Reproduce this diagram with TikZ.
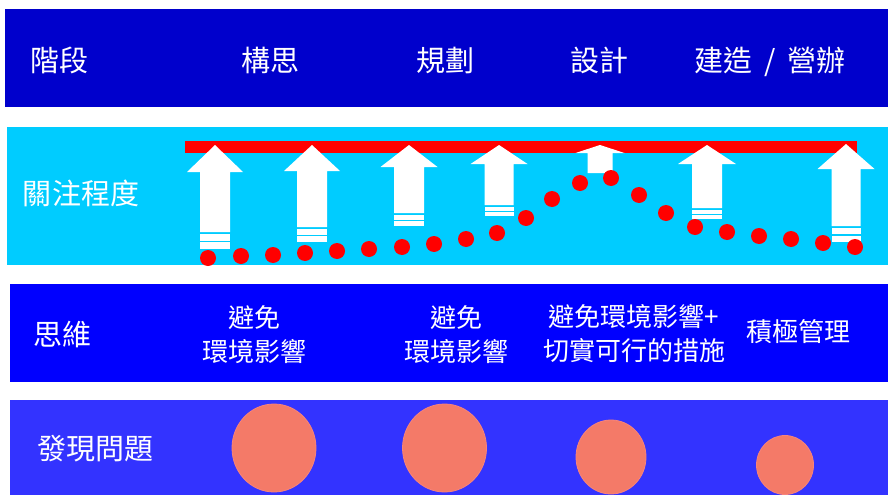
\documentclass[tikz,border=0pt]{standalone}
\usepackage{fontspec}
\newfontfamily\cjk{Noto Sans CJK TC}
\definecolor{bandA}{HTML}{0000CC}
\definecolor{bandB}{HTML}{00CCFF}
\definecolor{bandC}{HTML}{0000FF}
\definecolor{bandD}{HTML}{3333FF}
\definecolor{barred}{HTML}{FF0000}
\definecolor{salmon}{HTML}{F47A68}
\definecolor{salmonedge}{HTML}{F8847A}
\tikzset{
  lbl/.style={text=white, font=\cjk\fontsize{29}{32}\selectfont, inner sep=0pt},
  sublbl/.style={text=white, font=\cjk\fontsize{26}{34}\selectfont, inner sep=0pt, align=center},
  dot/.style={fill=barred},
  blob/.style={fill=salmon, draw=salmonedge, line width=0.8pt},
}
% cx, tip, headbase, headhalf, shafthalf, shaftend, stripebottom
\newcommand\uparr[7]{%
  \fill[white] (#1,#2) -- ({#1+#4},#3) -- ({#1+#5},#3) -- ({#1+#5},#6) -- ({#1-#5},#6) -- ({#1-#5},#3) -- ({#1-#4},#3) -- cycle;
  \pgfmathsetmacro\sa{#6+1.5}%
  \pgfmathsetmacro\sb{#6+1.5+(#7-#6-3)/2}%
  \pgfmathsetmacro\sc{\sb+1.5}%
  \fill[white] ({#1-#5},\sa) rectangle ({#1+#5},\sb);
  \fill[white] ({#1-#5},\sc) rectangle ({#1+#5},#7);
}
\begin{document}
\begin{tikzpicture}[x=1pt,y=-1pt]
\useasboundingbox (0,0) rectangle (888,495);
% bands
\fill[bandA] (5,9) rectangle (888,107);
\fill[bandB] (7,127) rectangle (888,265);
\fill[bandC] (10,284) rectangle (888,382);
\fill[bandD] (10,400) rectangle (888,495);
% band 1 labels
\node[lbl] (stage) at (59,60) {階段};
\node[lbl] (s1) at (270,60) {構思};
\node[lbl] (s2) at (445,60) {規劃};
\node[lbl] (s3) at (599,60) {設計};
\node[lbl] (s4) at (770,62) {建造\hspace{12pt}/\hspace{12pt}營辦};
% band 2
\node[lbl] (focus) at (81,193) {關注程度};
\fill[barred] (185,141) rectangle (857,153);
\uparr{215}{145}{172}{28}{15}{232}{249}
\uparr{312}{145}{171}{28}{15}{227}{242}
\uparr{409}{145}{167}{28.5}{15}{213}{226}
\uparr{499}{145}{164}{28.5}{14.5}{205}{216}
\fill[white] (600,145) -- (624.5,153) -- (612.5,153) -- (612.5,173) -- (587.5,173) -- (587.5,153) -- (575.5,153) -- cycle;
\uparr{707}{145}{164}{29}{15}{208}{219}
\uparr{846}{144}{169}{28.5}{14.5}{226}{242}
\foreach \x/\y in {208/258,241/256,273/255,305/253,337/251,369/249,402/247,434/244,466/239,497/233,526/218,552/199,580/183,611/178,639/195,666/213,695/227,727/232,759/236,791/239,823/243,855/247}
  \fill[dot] (\x,\y) circle[radius=8];
% band 3
\node[lbl] (think) at (62,335) {思維};
\node[sublbl] (t1) at (254,335) {避免\\環境影響};
\node[sublbl] (t2) at (456,335) {避免\\環境影響};
\node[sublbl] (t3) at (634,334) {避免環境影響+\\切實可行的措施};
\node[sublbl] (t4) at (798,332) {積極管理};
% band 4
\node[lbl] (find) at (95,449) {發現問題};
\draw[blob] (274,448) ellipse[x radius=42, y radius=44];
\draw[blob] (444.5,448) ellipse[x radius=42, y radius=44];
\draw[blob] (611,457) ellipse[x radius=35, y radius=37];
\draw[blob] (785,465) ellipse[x radius=28.5, y radius=29.5];
\end{tikzpicture}
\end{document}
